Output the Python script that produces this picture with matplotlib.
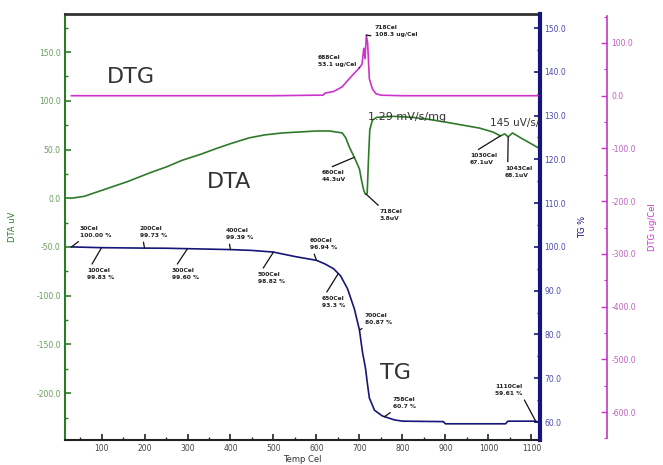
import matplotlib
matplotlib.use("Agg")
import matplotlib.pyplot as plt
from matplotlib.ticker import MultipleLocator, FormatStrFormatter

# ---------------- data ----------------
tg_temp = [30, 100, 200, 250, 300, 400, 450, 500, 550, 600, 620, 640, 656, 672, 688,
           700, 707, 714, 719, 723, 735, 753, 781, 800, 895, 900, 1040, 1045, 1110, 1115]
tg_val = [100.0, 99.83, 99.73, 99.70, 99.60, 99.39, 99.2, 98.82, 97.8, 96.94, 96.1, 95.0,
          93.4, 90.5, 85.9, 81.0, 76.0, 72.3, 68.4, 65.5, 62.7, 61.4, 60.5, 60.2, 60.1,
          59.6, 59.6, 60.2, 60.2, 60.0]

dta_temp = [30, 60, 120, 160, 212, 250, 288, 330, 367, 400, 444, 480, 521, 561, 600, 630,
            660, 668, 676, 688, 700, 705, 710, 714, 718, 721, 724, 730, 740, 780, 823, 860,
            902, 940, 979, 1010, 1028, 1038, 1046, 1056, 1075, 1095, 1115]
dta_val = [0, 2, 11, 17, 26, 32, 39, 45, 51, 56, 62, 65, 67, 68, 69, 69,
           67, 62, 53, 42, 30, 18, 8, 4, 5, 40, 70, 80, 83, 84, 83, 81,
           78, 75, 72, 68, 64, 66, 63, 67, 62, 57, 52]

dtg_temp = [30, 100, 300, 500, 600, 615, 620, 640, 660, 676, 693, 700, 706, 710, 713,
            716, 719, 723, 730, 738, 750, 800, 1115]
dtg_val = [0, 0, 0, 0, 1, 1, 5, 8, 17, 32, 47, 53, 60, 90, 70,
           115, 100, 32, 13, 4, 1, 0, 0]

# annotated points: (temperature, value, label)
tg_notes = [(30, 100.00, "30Cel\n100.00 %"), (100, 99.83, "100Cel\n99.83 %"),
            (200, 99.73, "200Cel\n99.73 %"), (300, 99.60, "300Cel\n99.60 %"),
            (400, 99.39, "400Cel\n99.39 %"), (500, 98.82, "500Cel\n98.82 %"),
            (600, 96.94, "600Cel\n96.94 %"), (650, 93.8, "650Cel\n93.3 %"),
            (700, 81.0, "700Cel\n80.87 %"), (758, 61.2, "758Cel\n60.7 %"),
            (1110, 60.2, "1110Cel\n59.61 %")]
dta_notes = [(688, 42, "660Cel\n44.3uV"), (716, 4, "718Cel\n3.8uV"),
             (1028, 64, "1030Cel\n67.1uV"), (1046, 63, "1043Cel\n68.1uV")]
dtg_notes = [(700, 53, "688Cel\n53.1 ug/Cel"), (716, 115, "718Cel\n108.3 ug/Cel")]

# ---------------- layout ----------------
W, H = 663, 465
L, R, T, B = 65, 540, 14, 440


def fp(x, y):
    return (x / W, 1 - y / H)


green = "#2f7a2a"
navy = "#15157a"
magenta = "#cc33cc"

fig = plt.figure(figsize=(W / 100, H / 100), dpi=100)
ax = fig.add_axes([L / W, 1 - B / H, (R - L) / W, (B - T) / H])
ax_tg = ax.twinx()
ax_dtg = ax.twinx()
ax_dtg.spines["right"].set_position(("outward", 67 * 72 / 100))

ax.plot(dta_temp, dta_val, color=green, lw=1.2)
ax_tg.plot(tg_temp, tg_val, color=navy, lw=1.2)
ax_dtg.plot(dtg_temp, dtg_val, color=magenta, lw=1.2)

ax.set_xlim(15, 1120)
ax.set_ylim(-248, 189)
ax_tg.set_ylim(55.9, 153.2)
ax_dtg.set_ylim(-653, 155)

ax.xaxis.set_major_locator(MultipleLocator(100))
ax.xaxis.set_minor_locator(MultipleLocator(50))
ax.yaxis.set_major_locator(MultipleLocator(50))
ax.yaxis.set_minor_locator(MultipleLocator(25))
ax.yaxis.set_major_formatter(FormatStrFormatter("%.1f"))
ax_tg.yaxis.set_major_locator(MultipleLocator(10))
ax_tg.yaxis.set_minor_locator(MultipleLocator(5))
ax_tg.yaxis.set_major_formatter(FormatStrFormatter("%.1f"))
ax_dtg.yaxis.set_major_locator(MultipleLocator(100))
ax_dtg.yaxis.set_minor_locator(MultipleLocator(50))
ax_dtg.yaxis.set_major_formatter(FormatStrFormatter("%.1f"))

fs = 5.5
ax.tick_params(axis="x", which="major", direction="in", length=4, width=1.2,
               labelsize=fs, labelcolor="#444444", color="#222222", pad=3)
ax.tick_params(axis="x", which="minor", direction="in", length=2.5, width=1.0, color="#222222")
ax.tick_params(axis="y", which="major", direction="in", length=4, width=1.2,
               labelsize=fs, labelcolor="#6a9a5a", color=green, pad=3)
ax.tick_params(axis="y", which="minor", direction="in", length=2.5, width=1.0, color=green)
ax_tg.tick_params(axis="y", which="major", direction="in", length=4, width=1.2,
                  labelsize=fs, labelcolor="#4a4ab0", color=navy, pad=3)
ax_tg.tick_params(axis="y", which="minor", direction="in", length=2.5, width=1.0, color=navy)
ax_dtg.tick_params(axis="y", which="major", direction="in", length=4, width=1.0,
                   labelsize=fs, labelcolor="#c060c0", color=magenta, pad=3)
ax_dtg.tick_params(axis="y", which="minor", direction="in", length=2.5, width=0.8, color=magenta)

for a in (ax_tg, ax_dtg):
    a.spines["left"].set_visible(False)
    a.spines["top"].set_visible(False)
    a.spines["bottom"].set_visible(False)
ax.spines["right"].set_visible(False)
ax.spines["left"].set_color(green)
ax.spines["left"].set_linewidth(1.5)
ax.spines["bottom"].set_color("#222222")
ax.spines["bottom"].set_linewidth(1.5)
ax.spines["top"].set_color("#333333")
ax.spines["top"].set_linewidth(2)
ax_tg.spines["right"].set_color(navy)
ax_tg.spines["right"].set_linewidth(3)
ax_dtg.spines["right"].set_color(magenta)
ax_dtg.spines["right"].set_linewidth(1.2)
ax_dtg.spines["right"].set_bounds(-650, 152)

ax.set_xlabel("Temp Cel", fontsize=6, color="#333333", labelpad=1)
ax.set_ylabel("DTA uV", fontsize=6, color=green, labelpad=14)
ax_tg.set_ylabel("TG %", fontsize=6, color=navy, labelpad=9)
ax_dtg.set_ylabel("DTG ug/Cel", fontsize=6, color=magenta, labelpad=9)

# big labels
fig.text(*fp(131, 77), "DTG", fontsize=16, color="#333333", ha="center", va="center")
fig.text(*fp(229, 182), "DTA", fontsize=16, color="#333333", ha="center", va="center")
fig.text(*fp(395, 373), "TG", fontsize=16, color="#333333", ha="center", va="center")
fig.text(*fp(368, 117), "1.29 mV/s/mg", fontsize=8, color="#333333", ha="left", va="center")
fig.text(*fp(490, 123), "145 uV/s/", fontsize=7.5, color="#333333", ha="left", va="center")

# small annotation text positions (pixels, top-left of text)
tg_text_pos = [(80, 226), (87, 268), (140, 226), (172, 268), (226, 228), (258, 272),
               (310, 238), (322, 296), (365, 313), (393, 397), (495, 384)]
dta_text_pos = [(322, 170), (380, 209), (470, 153), (505, 166)]
dtg_text_pos = [(318, 55), (375, 25)]


def annotate(axis, notes, poss):
    for (t, v, lab), (px, py) in zip(notes, poss):
        dx, dy = axis.transData.transform((t, v))
        ppx, ppy = dx, H - dy  # point in top-left pixel coords
        rely = 0.0 if py < ppy else 1.0
        relx = 1.0 if ppx > px + 40 else 0.1
        tx, ty = fp(px, py)
        axis.annotate(lab, xy=(t, v), xycoords="data", xytext=(tx, ty),
                      textcoords="figure fraction", fontsize=4.3, color="#222222",
                      ha="left", va="top", linespacing=1.5, fontweight="bold",
                      arrowprops=dict(arrowstyle="-", lw=0.9, color="#111111",
                                      shrinkA=1, shrinkB=0, relpos=(relx, rely)))


annotate(ax_tg, tg_notes, tg_text_pos)
annotate(ax, dta_notes, dta_text_pos)
annotate(ax_dtg, dtg_notes, dtg_text_pos)

fig.savefig("out.png", dpi=100)
